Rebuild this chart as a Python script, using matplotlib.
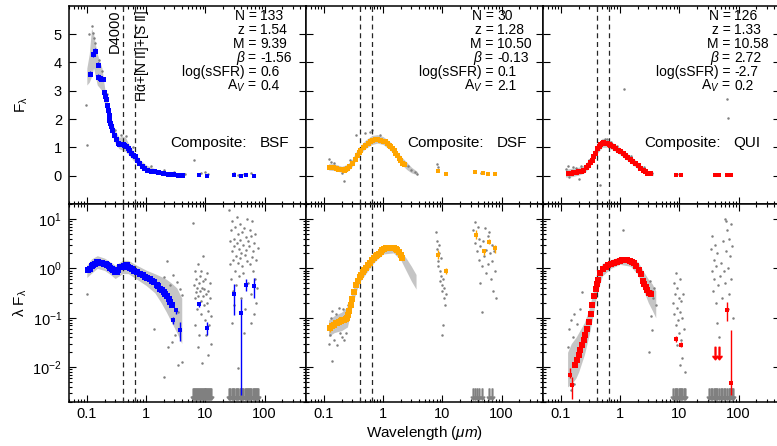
"""Composite SEDs (BSF / DSF / QUI): F_lambda on top, lambda*F_lambda below.
Gray = individual photometry, colour = composite points.
"""
import numpy as np
import matplotlib
matplotlib.use("Agg")
import matplotlib.pyplot as plt
from matplotlib.ticker import NullFormatter

plt.rcParams["font.family"] = ["Liberation Sans", "DejaVu Sans"]
plt.rcParams["mathtext.fontset"] = "custom"
plt.rcParams["mathtext.rm"] = "Liberation Sans"
plt.rcParams["mathtext.it"] = "Liberation Sans:italic"
plt.rcParams["mathtext.bf"] = "Liberation Sans:bold"

# ---------------- labels / stats
groups = ["BSF", "DSF", "QUI"]
group_colors = ["#0000ff", "#ffa500", "#ff0000"]
stat_keys = ["N", "z", "M", "\u03b2", "log(sSFR)", r"A$_V$"]
stats_bsf = ["133", "1.54", "9.39", "-1.56", "0.6", "0.4"]
stats_dsf = ["30", "1.28", "10.50", "-0.13", "0.1", "2.1"]
stats_qui = ["126", "1.33", "10.58", "2.72", "-2.7", "0.2"]
line_wl = [0.4, 0.6563]          # D4000, Halpha
x_ticks = [0.1, 1, 10, 100]
x_ticklabels = ["0.1", "1", "10", "100"]
ul_level = 0.0028                # where gray upper limits sit

# ---------------- BSF
bsf_top_wl = [0.115, 0.129, 0.137, 0.153, 0.157, 0.165, 0.175, 0.186, 0.194, 0.203, 0.212, 0.22,
              0.227, 0.235, 0.24, 0.25, 0.257, 0.27, 0.29, 0.31, 0.33, 0.35, 0.38, 0.4, 0.43, 0.46,
              0.49, 0.52, 0.56, 0.6, 0.64, 0.7, 0.77, 0.85, 0.93, 1.05, 1.2, 1.37, 1.6, 1.9, 2.3,
              2.8, 3.4, 4.1]
bsf_top_f = [3.6, 4.28, 4.4, 3.92, 3.5, 3.45, 3.42, 3.4, 2.95, 2.8, 2.69, 2.5, 2.33, 2.15, 1.98,
             1.85, 1.74, 1.6, 1.45, 1.3, 1.16, 1.12, 1.13, 1.12, 1.1, 1.05, 0.98, 0.9, 0.8, 0.74,
             0.68, 0.56, 0.45, 0.35, 0.27, 0.2, 0.17, 0.15, 0.12, 0.09, 0.07, 0.06, 0.04, 0.02]
bsf_top_err = [0.08, 0.1, 0.1, 0.08, 0.08, 0.07, 0.07, 0.07, 0.06, 0.06, 0.05, 0.05, 0.05, 0.05,
               0.04, 0.04, 0.04, 0.04, 0.04, 0.03, 0.03, 0.03, 0.03, 0.03, 0.03, 0.03, 0.03, 0.03,
               0.02, 0.02, 0.02, 0.02, 0.02, 0.02, 0.02, 0.02, 0.01, 0.01, 0.01, 0.01, 0.01, 0.01,
               0.01, 0.01]
bsf_irtop_wl = [7.9, 10.7, 30.4, 40.0, 48.4, 66.5]
bsf_irtop_f = [0.01, 0.0, 0.01, 0.0, 0.01, 0.0]
bsf_irtop_err = [0.01, 0.01, 0.01, 0.01, 0.01, 0.01]
bsf_bot_wl = [0.106, 0.115, 0.122, 0.129, 0.137, 0.147, 0.157, 0.167, 0.18, 0.195, 0.21, 0.218,
              0.235, 0.25, 0.265, 0.28, 0.3, 0.32, 0.34, 0.365, 0.39, 0.42, 0.45, 0.47, 0.5, 0.54,
              0.58, 0.63, 0.7, 0.78, 0.87, 0.95, 1.04, 1.15, 1.25, 1.35, 1.5, 1.62, 1.74, 1.85,
              1.98, 2.1, 2.25, 2.4, 2.56, 2.7]
bsf_bot_lf = [0.92, 0.95, 1.1, 1.17, 1.25, 1.36, 1.33, 1.3, 1.27, 1.22, 1.2, 1.17, 1.1, 1.03, 0.97,
              0.92, 0.86, 0.83, 0.92, 1.08, 1.05, 1.12, 1.17, 1.17, 1.08, 1.0, 0.95, 0.9, 0.83,
              0.77, 0.72, 0.67, 0.63, 0.6, 0.56, 0.52, 0.47, 0.43, 0.39, 0.36, 0.33, 0.3, 0.27,
              0.24, 0.21, 0.18]
bsf_sp_wl = [2.85, 3.26, 3.75, 7.9, 10.7, 30.4, 40.0, 48.4, 66.5]
bsf_sp_lf = [0.09, 0.143, 0.056, 0.186, 0.061, 0.30, 0.123, 0.47, 0.44]
bsf_sp_lo = [0.075, 0.12, 0.034, 0.167, 0.044, 0.113, 0.0027, 0.35, 0.25]
bsf_sp_hi = [0.105, 0.16, 0.083, 0.195, 0.083, 0.48, 0.235, 0.60, 0.63]

bsf_halo_top_wl = [0.1, 0.11, 0.12, 0.13, 0.15, 0.18, 0.2, 0.25, 0.3, 0.35, 0.4, 0.45, 0.5, 0.6,
                   0.8, 1.0, 1.5, 2.0, 3.0, 4.0]
bsf_halo_top_lo = [3.2, 3.3, 3.5, 3.8, 3.2, 3.0, 2.5, 1.6, 1.15, 0.95, 0.9, 0.85, 0.75, 0.55, 0.3,
                   0.15, 0.06, 0.02, -0.01, -0.03]
bsf_halo_top_hi = [3.8, 4.3, 5.2, 5.0, 4.3, 3.8, 3.1, 2.1, 1.6, 1.35, 1.4, 1.35, 1.15, 0.9, 0.55,
                   0.38, 0.22, 0.16, 0.1, 0.06]
bsf_gray_top_wl = [0.097, 0.1, 0.11, 0.12, 0.125, 0.13, 0.14, 0.16, 0.18, 0.22, 0.3, 0.38, 0.45,
                   0.6, 1.2, 2.0, 3.0, 4.5, 6.5, 8.5, 10.0, 11.0, 30.0, 45.0, 60.0, 35.0]
bsf_gray_top_f = [2.5, 1.1, 5.0, 5.3, 5.05, 4.85, 4.7, 4.1, 3.7, 2.9, 1.6, 1.45, 1.4, 1.0, 0.35,
                  0.2, 0.12, 0.05, 0.57, 0.08, 0.12, 0.05, 0.08, 0.05, 0.1, 0.03]
bsf_halo_bot_wl = [0.1, 0.12, 0.15, 0.2, 0.25, 0.3, 0.35, 0.4, 0.5, 0.7, 1.0, 1.4, 1.8, 2.2, 2.7,
                   3.3, 4.0]
bsf_halo_bot_lo = [0.65, 0.8, 1.0, 0.9, 0.75, 0.62, 0.7, 0.78, 0.78, 0.6, 0.45, 0.32, 0.2, 0.13,
                   0.08, 0.05, 0.03]
bsf_halo_bot_hi = [1.15, 1.55, 1.8, 1.6, 1.35, 1.15, 1.3, 1.45, 1.45, 1.15, 0.92, 0.78, 0.68, 0.6,
                   0.5, 0.4, 0.25]
bsf_gray_bot_wl = [0.1, 1.98, 2.25, 2.56, 2.9, 3.3, 3.75, 4.0, 3.5, 3.1, 3.5, 4.0, 1.98, 1.35, 2.3,
                   2.7,
                   6.3, 6.5, 6.6, 6.8, 6.9, 7.0, 7.2, 7.3, 7.5, 7.6, 7.8, 8.0, 8.1, 8.3, 8.5, 8.6,
                   8.8, 9.0, 9.1, 9.3, 9.5, 9.6, 9.8, 10.0, 10.2, 10.4, 10.6, 10.8, 11.0, 11.2,
                   11.5, 11.8, 12.0, 12.3, 12.6, 7.4, 8.9, 10.9, 6.7, 7.9,
                   25, 26, 26.5, 27, 27.5, 28, 28.5, 29, 29.5, 30, 31, 31.5, 32, 32.5, 33, 34, 34.5,
                   35, 36, 36.5, 37, 38, 38.5, 39, 40, 40.5, 41, 42, 43, 44, 45, 46, 47, 48, 49,
                   50, 51, 52, 53, 55, 56, 57, 58, 60, 61, 62, 63, 64, 66, 67, 68, 70, 72, 74, 76,
                   28, 45, 72, 31, 60, 35]
bsf_gray_bot_lf = [0.3, 0.68, 1.4, 0.46, 0.73, 0.54, 0.39, 0.29, 0.13, 0.045, 0.011, 0.013, 0.0064,
                   0.06, 0.026, 0.033,
                   8.1, 0.45, 0.25, 0.9, 0.33, 0.6, 0.15, 0.4, 1.2, 0.28, 0.5, 0.7, 0.35, 0.22,
                   0.9, 0.12, 0.4, 0.55, 0.27, 1.8, 0.18, 0.38, 0.09, 0.6, 0.3, 0.045, 0.2, 0.8,
                   0.14, 0.35, 0.07, 0.5, 0.25, 0.03, 0.11, 0.025, 0.012, 0.018, 0.07, 0.045,
                   15, 3.5, 1.2, 6, 0.6, 2.2, 9, 1.5, 0.35, 4, 2.8, 0.9, 7, 1.8, 0.45, 3.2, 11,
                   1.3, 5, 0.7, 2.5, 1.6, 8, 3.8, 0.25, 2, 5.5, 1.1, 3, 0.8, 6.5, 1.9, 0.15, 4.2,
                   2.4, 10, 1.4, 3.5, 0.5, 2.8, 6, 1.2, 0.3, 4.5, 1.7, 9, 0.9, 2.2, 0.12, 3.3, 0.6,
                   5, 1.5, 0.4, 2.6,
                   0.08, 0.05, 0.2, 0.18, 0.08, 0.0095]
bsf_ul_wl = [6.1, 6.4, 6.7, 7.0, 7.3, 7.6, 7.9, 8.2, 8.5, 8.8, 9.1, 9.4, 9.7, 10.0, 10.4, 10.8,
             11.2, 11.6, 12.0, 12.4,
             25, 26.5, 28, 29.5, 31, 32.5, 34, 36, 38, 40, 42, 44, 46, 48, 50, 52.5, 55, 57.5, 60,
             63, 66, 69, 72, 75, 78]

# ---------------- DSF
dsf_top_wl = [0.12, 0.13, 0.145, 0.16, 0.176, 0.195, 0.215, 0.23, 0.245, 0.27, 0.298, 0.33,
              0.358, 0.385, 0.415, 0.45, 0.5, 0.55, 0.6, 0.66, 0.735, 0.8, 0.9, 1.0, 1.08, 1.16,
              1.24, 1.32, 1.41, 1.5, 1.62, 1.73, 1.84, 1.96, 2.09, 2.25]
dsf_top_f = [0.31, 0.31, 0.31, 0.28, 0.24, 0.22, 0.21, 0.23, 0.27, 0.35, 0.45, 0.6, 0.74, 0.84,
             0.92, 1.02, 1.1, 1.16, 1.21, 1.26, 1.3, 1.28, 1.25, 1.23, 1.21, 1.16, 1.1, 1.04,
             0.98, 0.9, 0.8, 0.72, 0.63, 0.55, 0.45, 0.4]
dsf_top_err = [0.03, 0.03, 0.03, 0.03, 0.03, 0.03, 0.03, 0.03, 0.03, 0.03, 0.03, 0.03, 0.03,
               0.03, 0.03, 0.03, 0.03, 0.03, 0.03, 0.03, 0.03, 0.03, 0.03, 0.03, 0.03, 0.03,
               0.03, 0.03, 0.03, 0.03, 0.03, 0.03, 0.03, 0.03, 0.03, 0.03]
dsf_irtop_wl = [8.5, 11.5, 36, 48, 60, 78]
dsf_irtop_f = [0.15, 0.07, 0.12, 0.08, 0.07, 0.05]
dsf_irtop_err = [0.02, 0.01, 0.01, 0.01, 0.01, 0.01]
dsf_bot_wl = [0.127, 0.138, 0.148, 0.16, 0.17, 0.18, 0.193, 0.205, 0.22, 0.235, 0.25, 0.26, 0.27,
              0.283, 0.3, 0.32, 0.345, 0.37, 0.4, 0.42, 0.45, 0.48, 0.52, 0.55, 0.6, 0.65, 0.71,
              0.76, 0.8, 0.85, 0.91, 0.97, 1.04, 1.1, 1.18, 1.27, 1.35, 1.45, 1.53, 1.63, 1.74,
              1.85, 1.98, 2.1]
dsf_bot_lf = [0.061, 0.068, 0.072, 0.077, 0.08, 0.083, 0.086, 0.088, 0.09, 0.094, 0.1, 0.113,
              0.14, 0.18, 0.24, 0.337, 0.45, 0.56, 0.68, 0.74, 0.83, 0.92, 1.02, 1.15, 1.3, 1.5,
              1.65, 1.75, 1.82, 1.95, 2.18, 2.3, 2.46, 2.52, 2.6, 2.62, 2.62, 2.6, 2.56, 2.5,
              2.35, 2.18, 1.9, 1.6]
dsf_sp_wl = [0.127, 8.6, 11.6, 37.3, 50.4, 61, 78]
dsf_sp_lf = [0.061, 1.86, 0.88, 4.74, 2.25, 3.47, 2.54]
dsf_sp_lo = [0.052, 1.55, 0.76, 3.9, 1.9, 3.06, 2.0]
dsf_sp_hi = [0.073, 2.35, 1.0, 6.0, 2.5, 3.9, 2.97]

dsf_halo_top_wl = [0.12, 0.15, 0.2, 0.25, 0.3, 0.35, 0.4, 0.5, 0.65, 0.8, 1.0, 1.3, 1.6, 2.0,
                   2.5, 3.0, 3.8]
dsf_halo_top_lo = [0.2, 0.18, 0.12, 0.15, 0.32, 0.55, 0.75, 0.95, 1.1, 1.15, 1.1, 0.92, 0.7,
                   0.42, 0.22, 0.1, 0.03]
dsf_halo_top_hi = [0.42, 0.42, 0.33, 0.4, 0.58, 0.85, 1.02, 1.25, 1.42, 1.45, 1.38, 1.2, 0.95,
                   0.68, 0.48, 0.3, 0.14]
dsf_gray_top_wl = [0.12, 0.13, 0.15, 0.22, 0.2, 0.28, 0.35, 0.5, 0.6, 0.65, 0.9, 2.6, 3.0, 3.4,
                   3.8, 8.0, 8.3, 11.0, 35.0, 45.0]
dsf_gray_top_f = [0.6, 0.5, 0.45, -0.2, 0.1, 0.55, 1.45, 1.5, 1.55, 1.6, 1.45, 0.35, 0.2, 0.12,
                  0.07, 0.42, 0.3, 0.1, 0.15, 0.08]
dsf_halo_bot_wl = [0.12, 0.15, 0.2, 0.25, 0.3, 0.35, 0.4, 0.5, 0.7, 1.0, 1.5, 2.0, 2.5, 3.0, 3.6]
dsf_halo_bot_lo = [0.042, 0.05, 0.055, 0.065, 0.17, 0.33, 0.52, 0.75, 1.3, 1.95, 2.05, 1.45,
                   0.85, 0.55, 0.38]
dsf_halo_bot_hi = [0.09, 0.11, 0.13, 0.17, 0.33, 0.6, 0.88, 1.25, 1.95, 2.8, 3.0, 2.25, 1.55,
                   1.1, 0.75]
dsf_gray_bot_wl = [0.12, 0.125, 0.13, 0.14, 0.15, 0.16, 0.17, 0.18, 0.19, 0.2, 0.21, 0.22, 0.23,
                   0.24, 0.26, 0.138,
                   7.8, 8.0, 8.2, 8.4, 8.6, 8.8, 9.0, 9.2, 9.4, 9.6, 9.8, 10.0, 10.3, 10.5, 10.7,
                   11.0, 11.2, 11.5, 10.2, 9.7, 8.8,
                   33, 35, 36, 37, 38, 40, 41, 42, 43, 44, 46, 47, 48, 50, 52, 54, 55, 58, 60, 62,
                   64, 66, 68, 70, 72, 75, 78, 80]
dsf_gray_bot_lf = [0.03, 0.045, 0.1, 0.14, 0.035, 0.12, 0.028, 0.16, 0.05, 0.04, 0.15, 0.035,
                   0.11, 0.05, 0.18, 0.0134,
                   5.5, 3.5, 2.5, 1.4, 1.1, 2.0, 0.9, 0.55, 1.6, 0.7, 0.45, 0.35, 0.6, 0.25, 0.4,
                   0.18, 0.9, 0.3, 0.07, 0.045, 3.0,
                   6, 8.5, 3.3, 5, 2.2, 7, 1.5, 4, 0.5, 2.8, 1.1, 0.13, 3.6, 1.8, 6.5, 2.4, 0.8,
                   4.5, 1.2, 5.5, 2.0, 0.6, 3, 1.4, 0.35, 2.2, 0.9, 0.25]
dsf_ul_wl = [33, 35.5, 38, 42, 46, 62, 70]

# ---------------- QUI
qui_top_wl = [0.134, 0.148, 0.163, 0.18, 0.198, 0.22, 0.24, 0.265, 0.29, 0.31, 0.33, 0.355,
              0.38, 0.41, 0.435, 0.46, 0.49, 0.52, 0.56, 0.6, 0.64, 0.68, 0.75, 0.83, 0.91, 1.0,
              1.1, 1.2, 1.33, 1.47, 1.62, 1.8, 1.98, 2.18, 2.4, 2.65, 2.9, 3.2]
qui_top_f = [0.09, 0.1, 0.12, 0.13, 0.15, 0.18, 0.21, 0.29, 0.39, 0.47, 0.57, 0.68, 0.8, 0.98,
             1.06, 1.13, 1.16, 1.18, 1.17, 1.15, 1.12, 1.1, 1.04, 0.98, 0.92, 0.86, 0.8, 0.74,
             0.66, 0.59, 0.52, 0.45, 0.36, 0.27, 0.2, 0.15, 0.11, 0.09]
qui_top_err = [0.03, 0.03, 0.03, 0.03, 0.03, 0.03, 0.03, 0.03, 0.03, 0.03, 0.03, 0.03, 0.03,
               0.03, 0.03, 0.03, 0.03, 0.03, 0.03, 0.03, 0.03, 0.03, 0.03, 0.03, 0.03, 0.03,
               0.03, 0.03, 0.03, 0.03, 0.03, 0.03, 0.03, 0.03, 0.03, 0.03, 0.03, 0.03]
qui_irtop_wl = [8.75, 10.7, 39.8, 46.8, 63.5, 74]
qui_irtop_f = [0.03, 0.03, 0.02, 0.02, 0.03, 0.03]
qui_irtop_err = [0.01, 0.01, 0.01, 0.01, 0.01, 0.01]
qui_bot_wl = [0.175, 0.188, 0.199, 0.212, 0.231, 0.245, 0.26, 0.279, 0.298, 0.317, 0.337, 0.361,
              0.385, 0.404, 0.423, 0.462, 0.51, 0.568, 0.625, 0.693, 0.789, 0.895, 0.991, 1.087,
              1.2, 1.33, 1.49, 1.59, 1.71, 1.88, 2.08, 2.26, 2.4, 2.53, 2.69, 2.89, 3.08, 3.37]
qui_bot_lf = [0.011, 0.014, 0.0175, 0.022, 0.028, 0.035, 0.044, 0.06, 0.083, 0.12, 0.18, 0.27,
              0.39, 0.48, 0.58, 0.79, 0.95, 1.08, 1.15, 1.22, 1.3, 1.36, 1.42, 1.47, 1.48, 1.47,
              1.4, 1.33, 1.26, 1.1, 0.92, 0.75, 0.55, 0.48, 0.42, 0.36, 0.31, 0.3]
qui_sp_wl = [0.143, 0.157, 8.75, 10.7, 63.5, 74]
qui_sp_lf = [0.0069, 0.0043, 0.037, 0.028, 0.143, 0.0047]
qui_sp_lo = [0.006, 0.0023, 0.033, 0.025, 0.085, 0.0027]
qui_sp_hi = [0.0094, 0.0064, 0.043, 0.033, 0.21, 0.056]
qui_arrow_wl = [39.8, 46.8]
qui_arrow_lf = [0.019, 0.019]

qui_halo_top_wl = [0.12, 0.15, 0.2, 0.25, 0.3, 0.35, 0.4, 0.5, 0.6, 0.8, 1.0, 1.5, 2.0, 2.5,
                   3.0, 3.6]
qui_halo_top_lo = [-0.05, -0.04, 0.02, 0.1, 0.28, 0.5, 0.75, 1.0, 1.0, 0.88, 0.74, 0.45, 0.24,
                   0.1, 0.03, 0.0]
qui_halo_top_hi = [0.22, 0.26, 0.3, 0.38, 0.58, 0.82, 1.1, 1.32, 1.3, 1.13, 0.98, 0.7, 0.47,
                   0.28, 0.17, 0.1]
qui_gray_top_wl = [0.12, 0.13, 0.14, 0.16, 0.18, 0.2, 0.22, 0.3, 0.45, 0.55, 0.6, 0.7, 0.9, 1.15,
                   1.5, 2.5, 3.5, 63, 66, 9, 40]
qui_gray_top_f = [0.25, 0.33, -0.05, 0.3, 0.28, -0.1, 0.35, 0.55, -0.32, 1.3, 1.28, 1.2, 1.05,
                  3.05, 0.7, 0.3, 0.08, 2.7, 2.05, 0.06, 0.05]
qui_halo_bot_wl = [0.13, 0.15, 0.18, 0.2, 0.25, 0.3, 0.35, 0.4, 0.5, 0.7, 1.0, 1.5, 2.0, 2.5,
                   3.0, 3.5, 4.0]
qui_halo_bot_lo = [0.004, 0.0045, 0.006, 0.008, 0.018, 0.045, 0.11, 0.28, 0.7, 1.0, 1.2, 1.1,
                   0.75, 0.35, 0.2, 0.14, 0.1]
qui_halo_bot_hi = [0.02, 0.03, 0.04, 0.05, 0.08, 0.15, 0.33, 0.65, 1.25, 1.5, 1.72, 1.65, 1.35,
                   0.85, 0.6, 0.48, 0.35]
qui_gray_bot_wl = [0.13, 0.14, 0.15, 0.16, 0.17, 0.19, 0.15, 0.17, 0.21, 0.23, 1.1,
                   3.2, 3.4, 3.6, 3.8, 4.0, 3.3, 3.5, 3.1,
                   7.8, 8.0, 8.2, 8.5, 8.7, 8.9, 9.1, 9.3, 9.5, 9.7, 9.9, 10.1, 10.3, 10.6, 10.8,
                   11.0, 11.3, 11.6, 12.0, 12.5, 9.2, 10.4,
                   34, 35, 36, 37, 38, 39, 40, 41, 42, 43, 44, 45, 46, 48, 50, 52, 55, 57, 58, 60,
                   62, 64, 65, 66, 68, 70, 72, 75, 78, 80, 62, 74]
qui_gray_bot_lf = [0.025, 0.06, 0.09, 0.04, 0.12, 0.075, 0.0035, 0.0045, 0.15, 0.33, 6.0,
                   0.55, 0.35, 0.25, 0.4, 0.18, 0.11, 0.056, 0.02,
                   0.2, 0.5, 0.12, 0.3, 0.07, 0.8, 0.16, 0.4, 0.09, 0.25, 0.05, 0.6, 0.13, 0.035,
                   0.22, 0.015, 0.1, 0.3, 0.06, 0.008, 0.028, 0.011,
                   2.5, 0.9, 4.5, 0.35, 1.5, 0.6, 3, 0.2, 1.1, 0.08, 2, 0.45, 0.04, 0.7, 1.3, 0.25,
                   3.5, 0.9, 10, 0.5, 2.2, 6, 0.15, 1.0, 4, 0.3, 1.8, 0.6, 2.8, 0.1, 9, 8]
qui_ul_wl = [7.8, 8.3, 8.8, 9.3, 9.8, 10.3, 10.8, 11.3, 11.8, 12.3,
             32, 34, 36, 38, 40, 42, 44, 47, 50, 53, 56, 60, 64, 68, 72, 77, 82]

# ---------------- layout (pixels of the 777x446 canvas)
FIG_W, FIG_H = 777, 446
PANEL_L = [69, 306, 543]
PANEL_W = 237
ROW_TOP = [5.7, 204.0]
ROW_BOT = [204.0, 401.7]

GRAY = "0.5"


def style_axes(ax, row, col):
    ax.set_xscale("log")
    ax.set_xlim(0.05, 500)
    ax.tick_params(which="both", direction="in", top=True, right=True, width=0.8,
                   labelsize=10.5, pad=5)
    ax.tick_params(which="major", length=5)
    ax.tick_params(which="minor", length=2.5)
    ax.tick_params(axis="x", pad=4)
    for s in ax.spines.values():
        s.set_linewidth(1.1)
    ax.set_xticks(x_ticks)
    ax.xaxis.set_minor_formatter(NullFormatter())
    if row == 1:
        ax.set_xticklabels(x_ticklabels)
    else:
        ax.set_xticklabels([])
    if row == 0:
        ax.set_ylim(-1, 6)
        ax.set_yticks(range(0, 6))
        ax.set_yticklabels([str(v) for v in range(0, 6)] if col == 0 else [])
    else:
        ax.set_yscale("log")
        ax.set_ylim(0.002, 20)
        ax.set_yticks([0.01, 0.1, 1, 10])
        ax.yaxis.set_minor_formatter(NullFormatter())
        if col == 0:
            ax.set_yticklabels([r"$10^{-2}$", r"$10^{-1}$", r"$10^{0}$", r"$10^{1}$"])
        else:
            ax.set_yticklabels([])
    for wl in line_wl:
        ax.axvline(wl, color="0.15", ls=(0, (4, 3)), lw=0.9, zorder=3)


def draw_top(ax, d, color, stats, name):
    ax.fill_between(d["halo_wl"], d["halo_lo"], d["halo_hi"], color=GRAY, alpha=0.45, lw=0,
                    zorder=1)
    ax.plot(d["gray_wl"], d["gray_f"], "o", ms=1.8, mew=0, color=GRAY, zorder=2)
    ax.errorbar(d["wl"], d["f"], yerr=d["err"], fmt="s", ms=3.6, mew=0, color=color,
                capsize=2.0, elinewidth=0.9, capthick=0.9, zorder=4)
    ax.errorbar(d["ir_wl"], d["ir_f"], yerr=d["ir_err"], fmt="s", ms=3.0, mew=0, color=color,
                capsize=2.8, elinewidth=0.9, capthick=1.0, zorder=4)

    ys = [0.928, 0.857, 0.787, 0.717, 0.647, 0.577]
    for key, val, y in zip(stat_keys, stats, ys):
        # beta is italic in the original; plain text keeps its box tight
        style = "italic" if key == "\u03b2" else "normal"
        ax.text(0.792, y, key + " =", transform=ax.transAxes, ha="right", va="baseline",
                fontsize=10, fontstyle=style)
        ax.text(0.806, y, val, transform=ax.transAxes, ha="left", va="baseline", fontsize=10)
    ax.text(0.427, 0.289, "Composite:", transform=ax.transAxes, ha="left", va="baseline",
            fontsize=11)
    ax.text(0.803, 0.289, name, transform=ax.transAxes, ha="left", va="baseline", fontsize=11)


def draw_bottom(ax, d, color, ul_wl):
    ax.fill_between(d["halo_wl"], d["halo_lo"], d["halo_hi"], color=GRAY, alpha=0.45, lw=0,
                    zorder=1)
    ax.plot(d["gray_wl"], d["gray_lf"], "o", ms=1.8, mew=0, color=GRAY, zorder=2)
    ax.plot(ul_wl, [ul_level] * len(ul_wl), ls="none", marker=r"$\downarrow$", ms=8,
            color=GRAY, zorder=2)
    ax.plot(d["wl"], d["lf"], "s", ms=4.2, mew=0, color=color, zorder=4)
    lf = np.array(d["sp_lf"])
    yerr = [lf - np.array(d["sp_lo"]), np.array(d["sp_hi"]) - lf]
    ax.errorbar(d["sp_wl"], lf, yerr=yerr, fmt="s", ms=3.2, mew=0, color=color, capsize=3,
                elinewidth=1.0, capthick=1.0, zorder=4)


def main():
    fig = plt.figure(figsize=(FIG_W / 100, FIG_H / 100), dpi=100)

    tops = [
        dict(wl=bsf_top_wl, f=bsf_top_f, err=bsf_top_err, ir_wl=bsf_irtop_wl, ir_f=bsf_irtop_f,
             ir_err=bsf_irtop_err, halo_wl=bsf_halo_top_wl, halo_lo=bsf_halo_top_lo,
             halo_hi=bsf_halo_top_hi, gray_wl=bsf_gray_top_wl, gray_f=bsf_gray_top_f),
        dict(wl=dsf_top_wl, f=dsf_top_f, err=dsf_top_err, ir_wl=dsf_irtop_wl, ir_f=dsf_irtop_f,
             ir_err=dsf_irtop_err, halo_wl=dsf_halo_top_wl, halo_lo=dsf_halo_top_lo,
             halo_hi=dsf_halo_top_hi, gray_wl=dsf_gray_top_wl, gray_f=dsf_gray_top_f),
        dict(wl=qui_top_wl, f=qui_top_f, err=qui_top_err, ir_wl=qui_irtop_wl, ir_f=qui_irtop_f,
             ir_err=qui_irtop_err, halo_wl=qui_halo_top_wl, halo_lo=qui_halo_top_lo,
             halo_hi=qui_halo_top_hi, gray_wl=qui_gray_top_wl, gray_f=qui_gray_top_f),
    ]
    bots = [
        dict(wl=bsf_bot_wl, lf=bsf_bot_lf, sp_wl=bsf_sp_wl, sp_lf=bsf_sp_lf, sp_lo=bsf_sp_lo,
             sp_hi=bsf_sp_hi, halo_wl=bsf_halo_bot_wl, halo_lo=bsf_halo_bot_lo,
             halo_hi=bsf_halo_bot_hi, gray_wl=bsf_gray_bot_wl, gray_lf=bsf_gray_bot_lf),
        dict(wl=dsf_bot_wl, lf=dsf_bot_lf, sp_wl=dsf_sp_wl, sp_lf=dsf_sp_lf, sp_lo=dsf_sp_lo,
             sp_hi=dsf_sp_hi, halo_wl=dsf_halo_bot_wl, halo_lo=dsf_halo_bot_lo,
             halo_hi=dsf_halo_bot_hi, gray_wl=dsf_gray_bot_wl, gray_lf=dsf_gray_bot_lf),
        dict(wl=qui_bot_wl, lf=qui_bot_lf, sp_wl=qui_sp_wl, sp_lf=qui_sp_lf, sp_lo=qui_sp_lo,
             sp_hi=qui_sp_hi, halo_wl=qui_halo_bot_wl, halo_lo=qui_halo_bot_lo,
             halo_hi=qui_halo_bot_hi, gray_wl=qui_gray_bot_wl, gray_lf=qui_gray_bot_lf),
    ]
    all_stats = [stats_bsf, stats_dsf, stats_qui]
    all_ul = [bsf_ul_wl, dsf_ul_wl, qui_ul_wl]

    for col in range(3):
        l = PANEL_L[col] / FIG_W
        w = PANEL_W / FIG_W
        for row in range(2):
            b = 1 - ROW_BOT[row] / FIG_H
            h = (ROW_BOT[row] - ROW_TOP[row]) / FIG_H
            ax = fig.add_axes([l, b, w, h])
            style_axes(ax, row, col)
            if row == 0:
                draw_top(ax, tops[col], group_colors[col], all_stats[col], groups[col])
                if col == 0:
                    ax.text(0.30, 5.88, "D4000", rotation=90, ha="center", va="top",
                            fontsize=10.5)
                    ax.text(0.85, 5.88, r"H$\mathrm{\alpha}$+[N II]+[S II]", rotation=90,
                            ha="center", va="top", fontsize=10)
            else:
                draw_bottom(ax, bots[col], group_colors[col], all_ul[col])
                if col == 2:
                    ax.plot(qui_arrow_wl, qui_arrow_lf, ls="none", marker=r"$\downarrow$",
                            ms=9, color=group_colors[col], zorder=4)

    fig.text(22 / FIG_W, 1 - 105 / FIG_H, r"F$_\mathrm{\lambda}$", rotation=90, ha="center",
             va="center", fontsize=11)
    fig.text(20 / FIG_W, 1 - 303 / FIG_H, r"$\mathrm{\lambda}$ F$_\mathrm{\lambda}$",
             rotation=90, ha="center", va="center", fontsize=11)
    fig.text(424.5 / FIG_W, 1 - 433 / FIG_H, r"Wavelength ($\mu m$)", ha="center",
             va="center", fontsize=11)

    fig.savefig("out.png", dpi=100)
    plt.close(fig)


if __name__ == "__main__":
    main()
